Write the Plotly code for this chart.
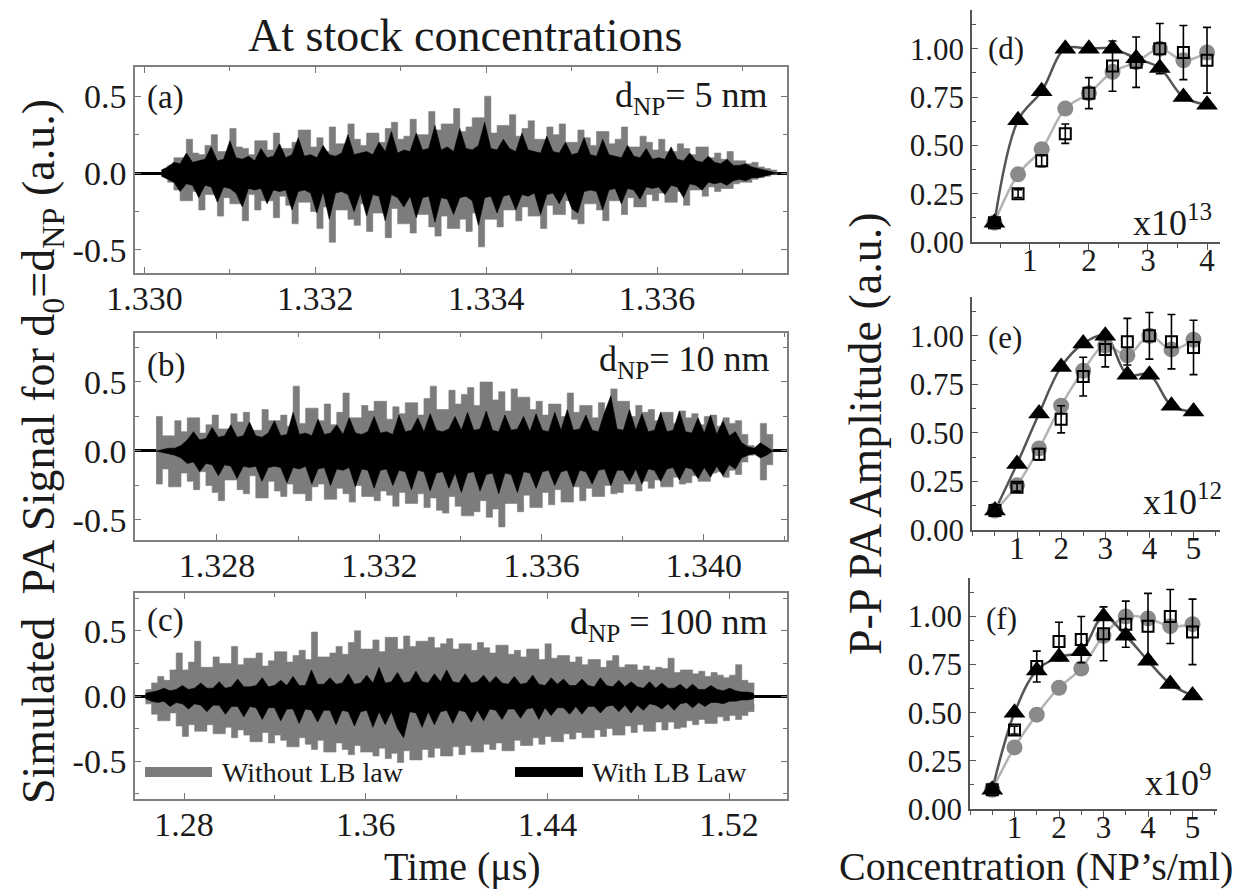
import numpy as np
import plotly.graph_objects as go

W, H = 1248, 892
SERIF = "Liberation Serif"
GRAY = "#7c7c7c"

# ---------------- simulated PA signals (peak envelopes per time bin) ----------------
# (a) d_NP = 5 nm
t_a_range = (1.3302, 1.3374)
gray_hi_a = [0.02, 0.05, 0.10, 0.10, 0.22, 0.13, 0.12, 0.18, 0.25, 0.14,
             0.14, 0.29, 0.17, 0.16, 0.12, 0.21, 0.21, 0.15, 0.26, 0.16,
             0.16, 0.20, 0.28, 0.28, 0.17, 0.23, 0.14, 0.30, 0.19, 0.19,
             0.32, 0.22, 0.18, 0.26, 0.26, 0.20, 0.29, 0.33, 0.22, 0.24,
             0.35, 0.25, 0.25, 0.40, 0.28, 0.32, 0.32, 0.42, 0.27, 0.30,
             0.36, 0.36, 0.50, 0.26, 0.31, 0.31, 0.38, 0.24, 0.29, 0.34,
             0.22, 0.22, 0.30, 0.25, 0.32, 0.20, 0.20, 0.28, 0.23, 0.18,
             0.27, 0.27, 0.19, 0.22, 0.30, 0.17, 0.17, 0.24, 0.20, 0.15,
             0.22, 0.14, 0.14, 0.19, 0.16, 0.12, 0.17, 0.17, 0.10, 0.13,
             0.09, 0.14, 0.08, 0.08, 0.06, 0.07, 0.04, 0.03, 0.02, 0.00]
gray_lo_a = [-0.02, -0.06, -0.11, -0.18, -0.18, -0.12, -0.24, -0.14, -0.14, -0.28,
             -0.16, -0.20, -0.20, -0.31, -0.14, -0.24, -0.18, -0.18, -0.29, -0.15,
             -0.21, -0.33, -0.19, -0.19, -0.25, -0.36, -0.22, -0.45, -0.24, -0.24,
             -0.30, -0.34, -0.20, -0.38, -0.26, -0.26, -0.42, -0.23, -0.33, -0.33,
             -0.39, -0.27, -0.27, -0.35, -0.41, -0.28, -0.36, -0.36, -0.30, -0.38,
             -0.26, -0.48, -0.30, -0.30, -0.35, -0.24, -0.24, -0.31, -0.22, -0.28,
             -0.28, -0.36, -0.21, -0.27, -0.27, -0.18, -0.30, -0.33, -0.20, -0.20,
             -0.24, -0.31, -0.18, -0.18, -0.27, -0.16, -0.22, -0.22, -0.14, -0.18,
             -0.13, -0.19, -0.19, -0.12, -0.21, -0.11, -0.11, -0.15, -0.09, -0.12,
             -0.10, -0.10, -0.07, -0.06, -0.06, -0.04, -0.03, -0.02, -0.01, 0.00]
black_hi_a = [0.02, 0.04, 0.07, 0.06, 0.13, 0.07, 0.08, 0.09, 0.17, 0.08,
              0.09, 0.21, 0.10, 0.09, 0.11, 0.08, 0.16, 0.10, 0.11, 0.19,
              0.10, 0.12, 0.23, 0.11, 0.12, 0.10, 0.18, 0.12, 0.11, 0.13,
              0.25, 0.12, 0.13, 0.14, 0.12, 0.20, 0.14, 0.27, 0.13, 0.15,
              0.14, 0.26, 0.15, 0.16, 0.31, 0.15, 0.17, 0.14, 0.29, 0.16,
              0.15, 0.18, 0.33, 0.16, 0.15, 0.22, 0.16, 0.14, 0.26, 0.15,
              0.14, 0.13, 0.24, 0.14, 0.13, 0.20, 0.12, 0.13, 0.23, 0.12,
              0.11, 0.22, 0.12, 0.11, 0.10, 0.18, 0.11, 0.10, 0.16, 0.09,
              0.10, 0.09, 0.17, 0.09, 0.08, 0.13, 0.08, 0.07, 0.11, 0.07,
              0.06, 0.09, 0.05, 0.05, 0.06, 0.04, 0.03, 0.02, 0.01, 0.00]
black_lo_a = [-0.02, -0.04, -0.06, -0.12, -0.07, -0.08, -0.16, -0.08, -0.09, -0.19,
              -0.09, -0.10, -0.13, -0.22, -0.10, -0.11, -0.10, -0.20, -0.11, -0.12,
              -0.11, -0.24, -0.12, -0.11, -0.13, -0.26, -0.12, -0.30, -0.13, -0.12,
              -0.14, -0.25, -0.13, -0.28, -0.14, -0.15, -0.31, -0.14, -0.16, -0.22,
              -0.15, -0.29, -0.16, -0.15, -0.32, -0.16, -0.17, -0.27, -0.16, -0.15,
              -0.18, -0.34, -0.16, -0.15, -0.26, -0.15, -0.14, -0.24, -0.14, -0.15,
              -0.13, -0.27, -0.14, -0.13, -0.20, -0.12, -0.23, -0.26, -0.12, -0.11,
              -0.12, -0.24, -0.11, -0.10, -0.20, -0.10, -0.11, -0.17, -0.09, -0.10,
              -0.09, -0.14, -0.08, -0.09, -0.16, -0.07, -0.08, -0.11, -0.06, -0.07,
              -0.06, -0.08, -0.05, -0.04, -0.05, -0.03, -0.03, -0.02, -0.01, 0.00]

# (b) d_NP = 10 nm
t_b_range = (1.3265, 1.3417)
gray_hi_b = [0.25, 0.11, 0.11, 0.22, 0.14, 0.24, 0.24, 0.13, 0.19, 0.26,
             0.16, 0.16, 0.27, 0.21, 0.28, 0.15, 0.15, 0.30, 0.22, 0.22,
             0.26, 0.18, 0.47, 0.20, 0.31, 0.31, 0.22, 0.34, 0.19, 0.28,
             0.42, 0.24, 0.24, 0.33, 0.29, 0.36, 0.36, 0.23, 0.32, 0.27,
             0.35, 0.35, 0.26, 0.38, 0.47, 0.30, 0.30, 0.44, 0.34, 0.41,
             0.46, 0.33, 0.50, 0.50, 0.37, 0.43, 0.29, 0.45, 0.39, 0.39,
             0.30, 0.36, 0.26, 0.34, 0.34, 0.25, 0.42, 0.28, 0.33, 0.33,
             0.24, 0.35, 0.27, 0.45, 0.36, 0.36, 0.25, 0.33, 0.28, 0.30,
             0.22, 0.28, 0.28, 0.20, 0.29, 0.24, 0.27, 0.19, 0.25, 0.26,
             0.18, 0.24, 0.20, 0.22, 0.12, 0.04, 0.02, 0.20, 0.12, 0.00]
gray_lo_b = [-0.24, -0.13, -0.26, -0.26, -0.16, -0.22, -0.28, -0.15, -0.25, -0.30,
             -0.36, -0.21, -0.21, -0.28, -0.31, -0.18, -0.34, -0.34, -0.22, -0.29,
             -0.33, -0.24, -0.31, -0.31, -0.36, -0.26, -0.24, -0.35, -0.35, -0.27,
             -0.31, -0.37, -0.25, -0.33, -0.33, -0.36, -0.29, -0.32, -0.40, -0.30,
             -0.38, -0.38, -0.31, -0.41, -0.34, -0.43, -0.45, -0.33, -0.40, -0.47,
             -0.47, -0.44, -0.36, -0.48, -0.42, -0.55, -0.38, -0.38, -0.44, -0.32,
             -0.41, -0.41, -0.30, -0.39, -0.28, -0.37, -0.37, -0.26, -0.36, -0.27,
             -0.33, -0.33, -0.25, -0.31, -0.30, -0.24, -0.24, -0.29, -0.22, -0.27,
             -0.21, -0.26, -0.26, -0.19, -0.24, -0.23, -0.18, -0.22, -0.22, -0.16,
             -0.15, -0.19, -0.14, -0.17, -0.08, -0.03, -0.02, -0.21, -0.10, 0.00]
black_hi_b = [0.00, 0.01, 0.02, 0.02, 0.04, 0.08, 0.14, 0.08, 0.09, 0.17,
              0.10, 0.11, 0.19, 0.10, 0.11, 0.21, 0.11, 0.10, 0.13, 0.22,
              0.11, 0.12, 0.28, 0.12, 0.13, 0.11, 0.23, 0.12, 0.13, 0.19,
              0.12, 0.24, 0.13, 0.12, 0.14, 0.25, 0.13, 0.14, 0.12, 0.26,
              0.14, 0.15, 0.24, 0.14, 0.27, 0.15, 0.14, 0.16, 0.25, 0.15,
              0.28, 0.15, 0.16, 0.29, 0.15, 0.14, 0.26, 0.15, 0.16, 0.25,
              0.14, 0.27, 0.15, 0.14, 0.28, 0.15, 0.30, 0.15, 0.16, 0.26,
              0.15, 0.14, 0.28, 0.40, 0.16, 0.15, 0.30, 0.15, 0.27, 0.14,
              0.15, 0.28, 0.14, 0.15, 0.29, 0.14, 0.13, 0.24, 0.13, 0.26,
              0.12, 0.22, 0.11, 0.14, 0.06, 0.03, 0.02, 0.06, 0.03, 0.00]
black_lo_b = [0.00, -0.01, -0.02, -0.03, -0.05, -0.09, -0.08, -0.15, -0.09, -0.10,
              -0.18, -0.10, -0.11, -0.20, -0.11, -0.12, -0.11, -0.22, -0.12, -0.11,
              -0.12, -0.23, -0.12, -0.13, -0.11, -0.24, -0.13, -0.12, -0.25, -0.13,
              -0.14, -0.12, -0.26, -0.13, -0.14, -0.27, -0.14, -0.13, -0.25, -0.14,
              -0.15, -0.28, -0.14, -0.15, -0.29, -0.16, -0.15, -0.27, -0.16, -0.30,
              -0.16, -0.15, -0.29, -0.17, -0.16, -0.31, -0.16, -0.17, -0.30, -0.15,
              -0.16, -0.27, -0.15, -0.14, -0.25, -0.15, -0.14, -0.26, -0.14, -0.15,
              -0.24, -0.14, -0.13, -0.25, -0.14, -0.14, -0.22, -0.13, -0.24, -0.13,
              -0.14, -0.22, -0.13, -0.12, -0.21, -0.12, -0.13, -0.20, -0.12, -0.19,
              -0.11, -0.18, -0.10, -0.13, -0.05, -0.03, -0.02, -0.05, -0.03, 0.00]

# (c) d_NP = 100 nm
t_c_range = (1.263, 1.531)
gray_hi_c = [0.05, 0.10, 0.15, 0.12, 0.20, 0.33, 0.20, 0.26, 0.42, 0.22,
             0.22, 0.30, 0.25, 0.25, 0.38, 0.24, 0.29, 0.29, 0.33, 0.23,
             0.27, 0.34, 0.34, 0.26, 0.31, 0.35, 0.28, 0.49, 0.30, 0.30,
             0.33, 0.38, 0.32, 0.41, 0.50, 0.36, 0.36, 0.43, 0.34, 0.45,
             0.45, 0.36, 0.46, 0.38, 0.42, 0.42, 0.45, 0.37, 0.40, 0.44,
             0.36, 0.40, 0.40, 0.35, 0.41, 0.37, 0.33, 0.39, 0.39, 0.32,
             0.35, 0.30, 0.36, 0.36, 0.28, 0.40, 0.29, 0.31, 0.31, 0.26,
             0.30, 0.24, 0.28, 0.28, 0.22, 0.27, 0.31, 0.22, 0.24, 0.24,
             0.20, 0.23, 0.20, 0.22, 0.21, 0.29, 0.18, 0.20, 0.20, 0.17,
             0.19, 0.15, 0.18, 0.16, 0.14, 0.16, 0.24, 0.12, 0.10, 0.04]
gray_lo_c = [-0.06, -0.14, -0.19, -0.19, -0.13, -0.23, -0.31, -0.22, -0.27, -0.27,
             -0.22, -0.29, -0.29, -0.24, -0.32, -0.26, -0.30, -0.35, -0.35, -0.28,
             -0.36, -0.30, -0.34, -0.39, -0.39, -0.32, -0.37, -0.41, -0.34, -0.43,
             -0.43, -0.36, -0.41, -0.45, -0.38, -0.43, -0.43, -0.46, -0.40, -0.48,
             -0.44, -0.51, -0.42, -0.49, -0.49, -0.41, -0.47, -0.40, -0.46, -0.46,
             -0.39, -0.45, -0.38, -0.43, -0.43, -0.37, -0.41, -0.36, -0.42, -0.42,
             -0.34, -0.38, -0.38, -0.32, -0.37, -0.31, -0.35, -0.35, -0.29, -0.33,
             -0.28, -0.32, -0.32, -0.26, -0.31, -0.25, -0.30, -0.30, -0.23, -0.28,
             -0.22, -0.27, -0.27, -0.20, -0.26, -0.20, -0.25, -0.24, -0.19, -0.22,
             -0.18, -0.21, -0.21, -0.16, -0.19, -0.15, -0.18, -0.15, -0.12, -0.06]
black_hi_c = [0.02, 0.03, 0.04, 0.06, 0.04, 0.05, 0.08, 0.05, 0.06, 0.10,
              0.06, 0.06, 0.11, 0.06, 0.07, 0.13, 0.07, 0.07, 0.08, 0.14,
              0.07, 0.08, 0.12, 0.08, 0.15, 0.08, 0.08, 0.20, 0.09, 0.09,
              0.14, 0.09, 0.10, 0.17, 0.09, 0.10, 0.16, 0.10, 0.22, 0.10,
              0.11, 0.18, 0.10, 0.11, 0.19, 0.11, 0.10, 0.17, 0.11, 0.20,
              0.11, 0.10, 0.17, 0.10, 0.11, 0.16, 0.10, 0.15, 0.10, 0.09,
              0.15, 0.09, 0.10, 0.16, 0.09, 0.08, 0.14, 0.09, 0.13, 0.08,
              0.08, 0.13, 0.08, 0.07, 0.14, 0.08, 0.07, 0.12, 0.07, 0.11,
              0.07, 0.06, 0.11, 0.06, 0.10, 0.06, 0.06, 0.09, 0.05, 0.09,
              0.05, 0.05, 0.08, 0.05, 0.04, 0.06, 0.04, 0.03, 0.03, 0.02]
black_lo_c = [-0.02, -0.04, -0.05, -0.04, -0.08, -0.05, -0.06, -0.10, -0.06, -0.07,
              -0.12, -0.07, -0.07, -0.14, -0.08, -0.08, -0.16, -0.08, -0.09, -0.18,
              -0.09, -0.09, -0.19, -0.10, -0.10, -0.21, -0.10, -0.11, -0.20, -0.11,
              -0.11, -0.22, -0.11, -0.12, -0.23, -0.12, -0.11, -0.24, -0.12, -0.22,
              -0.12, -0.25, -0.32, -0.12, -0.13, -0.24, -0.12, -0.22, -0.12, -0.11,
              -0.21, -0.11, -0.12, -0.20, -0.11, -0.19, -0.10, -0.11, -0.18, -0.10,
              -0.10, -0.17, -0.10, -0.09, -0.18, -0.09, -0.15, -0.09, -0.09, -0.14,
              -0.08, -0.14, -0.08, -0.08, -0.13, -0.08, -0.07, -0.12, -0.07, -0.13,
              -0.07, -0.11, -0.06, -0.07, -0.10, -0.06, -0.11, -0.06, -0.05, -0.09,
              -0.05, -0.08, -0.05, -0.05, -0.06, -0.04, -0.04, -0.03, -0.03, -0.02]

# ---------------- peak-to-peak amplitude vs concentration ----------------
conc_d = [0.4, 0.8, 1.2, 1.6, 2.0, 2.4, 2.8, 3.2, 3.6, 4.0]
tri_d = [0.10, 0.63, 0.78, 1.00, 1.00, 1.00, 0.95, 0.90, 0.75, 0.71]
circ_d = [0.10, 0.35, 0.48, 0.69, 0.77, 0.88, 0.93, 1.00, 0.94, 0.98]
sq_d = [0.10, 0.25, 0.42, 0.56, 0.77, 0.91, 0.93, 1.00, 0.98, 0.94]
err_d = [0.00, 0.02, 0.03, 0.05, 0.08, 0.13, 0.13, 0.13, 0.14, 0.17]

conc_ef = [0.5, 1.0, 1.5, 2.0, 2.5, 3.0, 3.5, 4.0, 4.5, 5.0]
tri_e = [0.10, 0.34, 0.60, 0.84, 0.96, 1.00, 0.80, 0.80, 0.64, 0.61]
circ_e = [0.10, 0.23, 0.42, 0.64, 0.82, 0.95, 0.90, 1.00, 0.93, 0.98]
sq_e = [0.10, 0.22, 0.39, 0.57, 0.79, 0.93, 0.97, 1.00, 0.97, 0.94]
err_e = [0.00, 0.02, 0.03, 0.07, 0.10, 0.09, 0.12, 0.12, 0.14, 0.14]

tri_f = [0.10, 0.50, 0.72, 0.79, 0.82, 1.00, 0.90, 0.77, 0.65, 0.59]
circ_f = [0.10, 0.32, 0.49, 0.63, 0.73, 0.90, 1.00, 0.99, 0.95, 0.96]
sq_f = [0.10, 0.41, 0.74, 0.87, 0.88, 0.91, 0.96, 0.95, 1.00, 0.92]
err_f = [0.00, 0.02, 0.08, 0.10, 0.12, 0.14, 0.12, 0.17, 0.14, 0.17]

# tick labels
sig_yticks = [-0.5, 0.0, 0.5]
sig_yticktext = ["-0.5", "0.0", "0.5"]
xticks_a = [1.330, 1.332, 1.334, 1.336]
xticks_b = [1.328, 1.332, 1.336, 1.340]
xticks_c = [1.28, 1.36, 1.44, 1.52]
amp_yticks = [0.0, 0.25, 0.5, 0.75, 1.0]
amp_yticktext = ["0.00", "0.25", "0.50", "0.75", "1.00"]


def px(x, y):
    """pixel position -> paper coordinates"""
    return x / W, 1 - y / H


fig = go.Figure()

# ---------------- left column: time signals ----------------
signal_panels = [
    (1, t_a_range, gray_hi_a, gray_lo_a, black_hi_a, black_lo_a),
    (2, t_b_range, gray_hi_b, gray_lo_b, black_hi_b, black_lo_b),
    (3, t_c_range, gray_hi_c, gray_lo_c, black_hi_c, black_lo_c),
]
for k, trange, ghi, glo, bhi, blo in signal_panels:
    t = np.linspace(trange[0], trange[1], len(ghi))
    xa, ya = f"x{k}", f"y{k}"
    for env in (ghi, glo):
        fig.add_trace(go.Scatter(x=t, y=env, mode="lines", line=dict(color=GRAY, width=0.6, shape="hv"),
                                 fill="tozeroy", fillcolor=GRAY, xaxis=xa, yaxis=ya, showlegend=False,
                                 hoverinfo="skip"))
    for env in (bhi, blo):
        fig.add_trace(go.Scatter(x=t, y=env, mode="lines", line=dict(color="black", width=0.6),
                                 fill="tozeroy", fillcolor="black", xaxis=xa, yaxis=ya, showlegend=False,
                                 hoverinfo="skip"))

# ---------------- right column: amplitude curves ----------------
amp_panels = [
    (4, conc_d, tri_d, circ_d, sq_d, err_d),
    (5, conc_ef, tri_e, circ_e, sq_e, err_e),
    (6, conc_ef, tri_f, circ_f, sq_f, err_f),
]
for k, xc, tri, circ, sq, err in amp_panels:
    xa, ya = f"x{k}", f"y{k}"
    fig.add_trace(go.Scatter(x=xc, y=circ, mode="lines", line=dict(color="#b4b4b4", width=2.5, shape="spline"),
                             xaxis=xa, yaxis=ya, showlegend=False))
    fig.add_trace(go.Scatter(x=xc, y=tri, mode="lines", line=dict(color="#555555", width=2.5, shape="spline"),
                             xaxis=xa, yaxis=ya, showlegend=False))
    fig.add_trace(go.Scatter(x=xc, y=circ, mode="markers",
                             marker=dict(symbol="circle", size=16, color="#8a8a8a"),
                             xaxis=xa, yaxis=ya, showlegend=False))
    fig.add_trace(go.Scatter(x=xc, y=sq, mode="markers",
                             marker=dict(symbol="square-open", size=11, color="black", line=dict(width=2)),
                             error_y=dict(type="data", array=err, color="black", thickness=1.6, width=4),
                             xaxis=xa, yaxis=ya, showlegend=False))
    fig.add_trace(go.Scatter(x=xc, y=tri, mode="markers",
                             marker=dict(symbol="triangle-up", size=19, color="black"),
                             xaxis=xa, yaxis=ya, showlegend=False))

# ---------------- axes ----------------
tick_font_l = dict(family=SERIF, size=34, color="#1a1a1a")
tick_font_r = dict(family=SERIF, size=31, color="#1a1a1a")

left_x0, left_x1 = 135, 787
sig_rows = [(67, 273, [-0.65, 0.69]), (333, 540, [-0.645, 0.855]), (593, 799, [-0.79, 0.79])]
sig_xr = [[1.32989, 1.33752], [1.32598, 1.34205], [1.2584, 1.5455]]
sig_xt = [(xticks_a, "%.3f", 0.001), (xticks_b, "%.3f", 0.002), (xticks_c, "%.2f", 0.04)]

layout_axes = {}
for i in range(3):
    k = i + 1
    top, bot, yr = sig_rows[i]
    xt, fmt, mdt = sig_xt[i]
    layout_axes[f"xaxis{k}"] = dict(
        domain=[left_x0 / W, left_x1 / W], anchor=f"y{k}", range=sig_xr[i], automargin=False,
        tickmode="array", tickvals=xt, ticktext=[fmt % v for v in xt], ticklabelstandoff=-6,
        ticks="inside", ticklen=6, tickcolor="#777", mirror="allticks", showline=True,
        linecolor="#808080", linewidth=1.5, showgrid=False, zeroline=False, tickfont=tick_font_l,
        minor=dict(ticks="inside", ticklen=4, tickcolor="#777", dtick=mdt, tick0=xt[0], showgrid=False),
    )
    layout_axes[f"yaxis{k}"] = dict(
        domain=[1 - bot / H, 1 - top / H], anchor=f"x{k}", range=yr, automargin=False,
        tickmode="array", tickvals=sig_yticks, ticktext=sig_yticktext,
        ticks="inside", ticklen=6, tickcolor="#777", mirror="allticks", showline=True,
        linecolor="#808080", linewidth=1.5, showgrid=False, tickfont=tick_font_l,
        zeroline=True, zerolinecolor="black", zerolinewidth=2.5,
        minor=dict(ticks="inside", ticklen=4, tickcolor="#777", dtick=0.25, tick0=0, showgrid=False),
    )

amp_rows = [(10, 242, 972, 1220, [0.02, 4.22], [1, 2, 3, 4]),
            (297, 530, 972, 1220, [-0.02, 5.6], [1, 2, 3, 4, 5]),
            (578, 809, 970, 1217, [0.0, 5.55], [1, 2, 3, 4, 5])]
for i in range(3):
    k = i + 4
    top, bot, xl, xr, xrng, xtv = amp_rows[i]
    layout_axes[f"xaxis{k}"] = dict(
        domain=[xl / W, xr / W], anchor=f"y{k}", range=xrng, automargin=False,
        tickmode="array", tickvals=xtv, ticklabelstandoff=-16,
        ticks="outside", ticklen=6, tickcolor="#555", showline=True, linecolor="#555", linewidth=1.5,
        showgrid=False, zeroline=False, tickfont=tick_font_r,
        minor=dict(ticks="outside", ticklen=4, tickcolor="#555", dtick=0.5, tick0=0.5, showgrid=False),
    )
    layout_axes[f"yaxis{k}"] = dict(
        domain=[1 - bot / H, 1 - top / H], anchor=f"x{k}", range=[0, 1.2], automargin=False,
        tickmode="array", tickvals=amp_yticks, ticktext=amp_yticktext,
        ticks="inside", ticklen=6, tickcolor="#555", showline=True, linecolor="#555", linewidth=1.5,
        showgrid=False, zeroline=False, tickfont=tick_font_r,
        minor=dict(ticks="inside", ticklen=4, tickcolor="#555", dtick=0.125, tick0=0, showgrid=False),
    )

# ---------------- text ----------------
annotations = []


def add_text(x, y, text, size, xanchor="center", yanchor="middle", angle=0):
    ax, ay = px(x, y)
    annotations.append(dict(x=ax, y=ay, xref="paper", yref="paper", text=text, showarrow=False,
                            xanchor=xanchor, yanchor=yanchor, textangle=angle,
                            font=dict(family=SERIF, size=size, color="#1a1a1a")))


add_text(465, 35, "At stock concentrations", 46)
add_text(42, 452, "Simulated  PA Signal for d<sub>0</sub>=d<sub>NP</sub> (a.u.)", 46, angle=-90)
add_text(462, 866, "Time (\u03bcs)", 40)
add_text(866, 434, "P-P PA Amplitude (a.u.)", 46, angle=-90)
add_text(1036, 866, "Concentration (NP\u2019s/ml)", 40)

add_text(145, 97, "(a)", 33, xanchor="left")
add_text(145, 365, "(b)", 33, xanchor="left")
add_text(145, 620, "(c)", 33, xanchor="left")
add_text(770, 97, "d<sub>NP</sub>= 5 nm", 36, xanchor="right")
add_text(772, 362, "d<sub>NP</sub>= 10 nm", 36, xanchor="right")
add_text(770, 624, "d<sub>NP</sub> = 100 nm", 36, xanchor="right")

add_text(986, 48, "(d)", 31, xanchor="left")
add_text(986, 337, "(e)", 31, xanchor="left")
add_text(984, 618, "(f)", 31, xanchor="left")
add_text(1214, 220, "x10<sup>13</sup>", 36, xanchor="right")
add_text(1224, 500, "x10<sup>12</sup>", 36, xanchor="right")
add_text(1214, 780, "x10<sup>9</sup>", 36, xanchor="right")

# legend for panel (c)
add_text(220, 772, "Without LB law", 28, xanchor="left")
add_text(590, 772, "With LB Law", 28, xanchor="left")
shapes = []
for (x0, x1, col) in [(145, 212, GRAY), (515, 583, "black")]:
    a0 = px(x0, 772)
    a1 = px(x1, 772)
    shapes.append(dict(type="line", xref="paper", yref="paper", x0=a0[0], y0=a0[1], x1=a1[0], y1=a1[1],
                       line=dict(color=col, width=10)))

fig.update_layout(
    width=W, height=H, margin=dict(l=0, r=0, t=0, b=0, autoexpand=False),
    paper_bgcolor="white", plot_bgcolor="white",
    annotations=annotations, shapes=shapes, showlegend=False,
    font=dict(family=SERIF, color="#1a1a1a"),
    **layout_axes,
)

fig.write_html("out.html")
